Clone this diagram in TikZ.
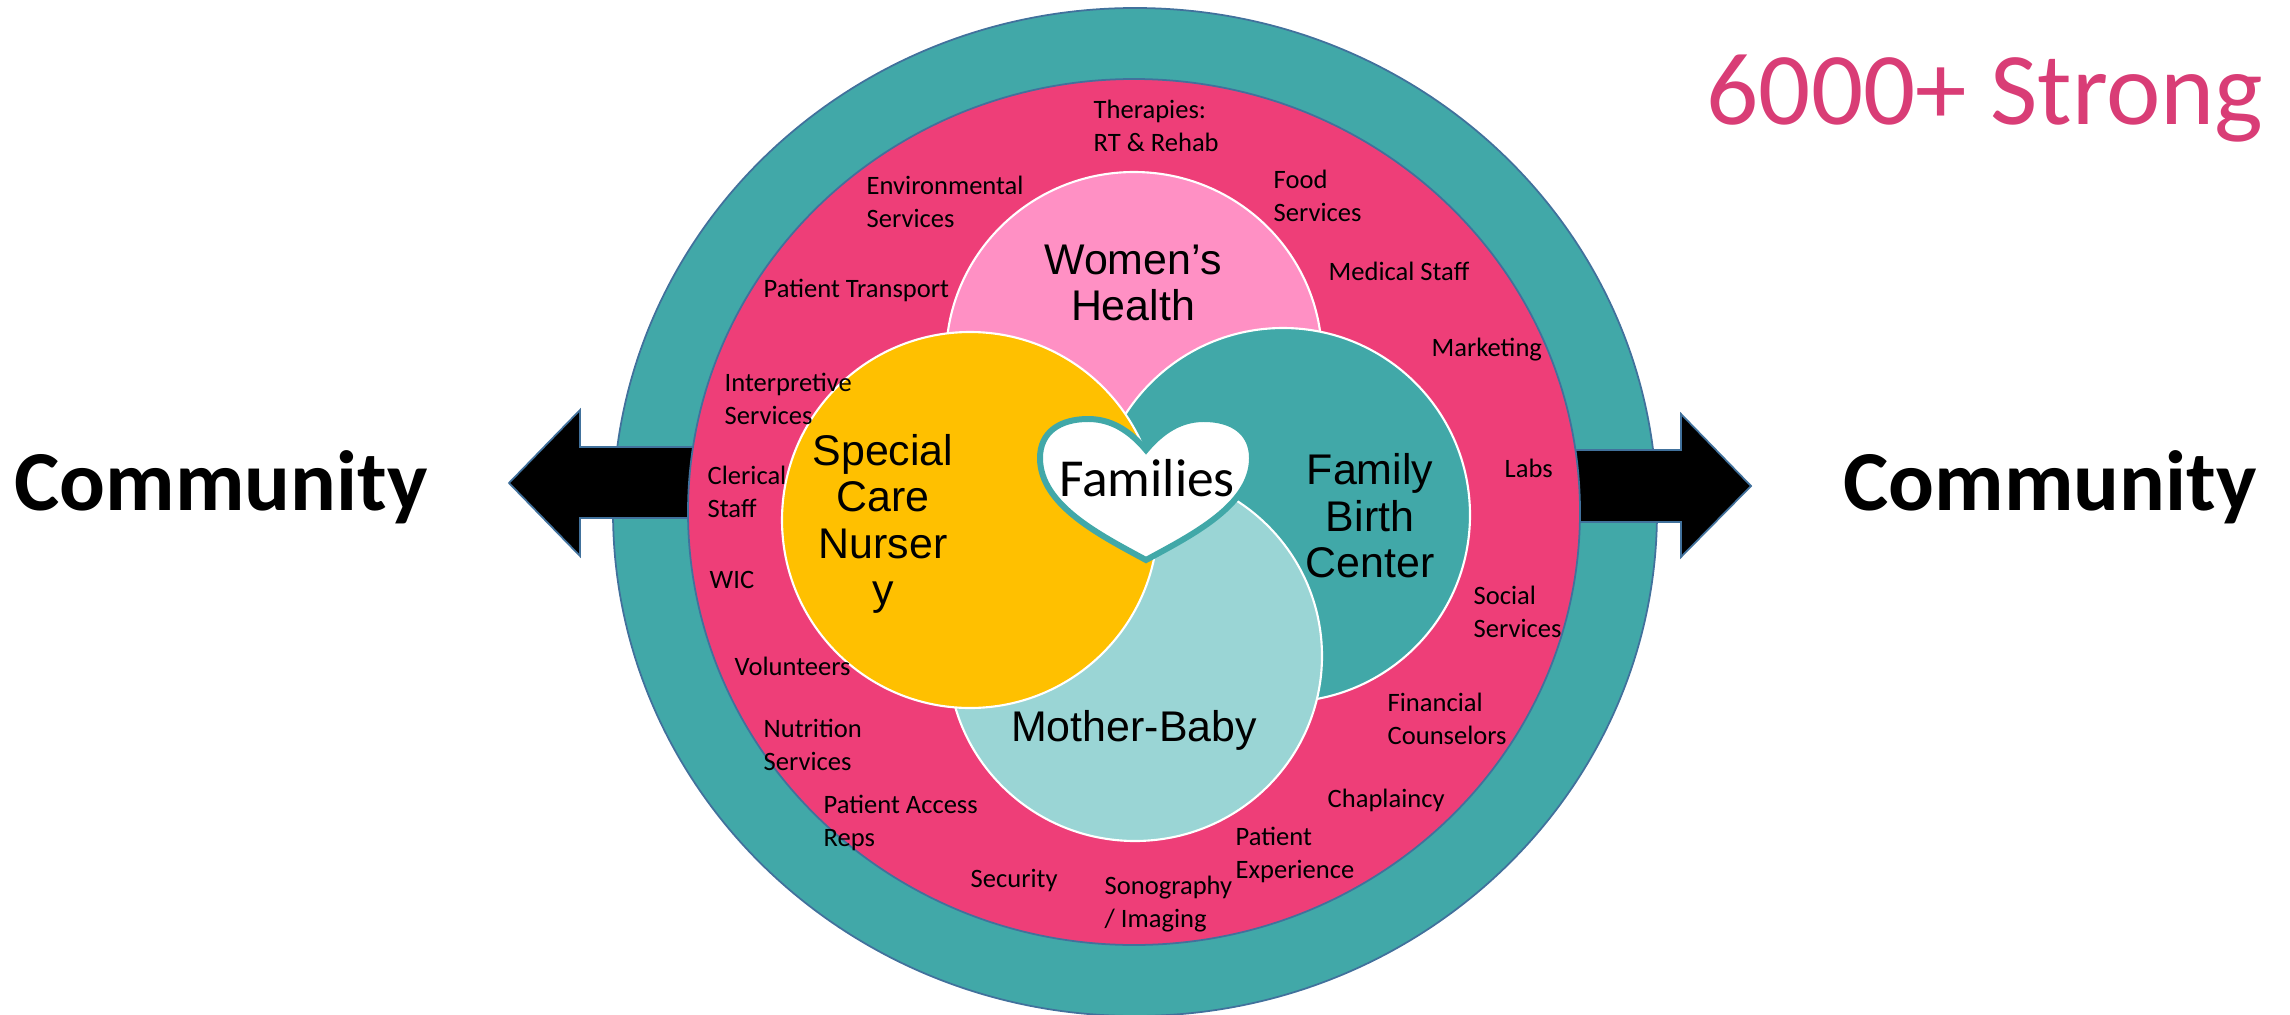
\documentclass[tikz,border=0pt]{standalone}
\usepackage{fontspec}
\setmainfont{Carlito}
\newfontfamily\arialfont{Liberation Sans}
\definecolor{ringteal}{HTML}{41A8A8}
\definecolor{ringpink}{HTML}{EE3E78}
\definecolor{rimblue}{HTML}{41719C}
\definecolor{womenpink}{HTML}{FF90C4}
\definecolor{nurseryyellow}{HTML}{FFC000}
\definecolor{babyteal}{HTML}{9AD5D5}
\definecolor{strongpink}{HTML}{D93D76}
\tikzset{
	svc/.style={anchor=west, align=left, inner sep=0pt, font=\fontsize{7.55pt}{9.2pt}\selectfont},
	unit/.style={align=center, inner sep=0pt, font=\arialfont\fontsize{12.2pt}{13.25pt}\selectfont},
	community/.style={inner sep=0pt, font=\bfseries\fontsize{24.3pt}{30pt}\selectfont},
	lobe/.style={draw=white, line width=0.6pt},
	rim/.style={draw=rimblue, line width=0.5pt},
}
\begin{document}
\begin{tikzpicture}[x=0.01cm, y=-0.01cm]
	\useasboundingbox (0,0) rectangle (2290,1015);
	\filldraw [rim, fill=ringteal] (1135,512) ellipse (522 and 504);
	% arrows run under the pink ring
	\filldraw [rim, fill=black, line join=miter] (800,447) -- (580,447) -- (580,410) -- (509,483) -- (580,556) -- (580,518) -- (800,518) -- cycle;
	\filldraw [rim, fill=black, line join=miter] (1460,450) -- (1681,450) -- (1681,414) -- (1751,486) -- (1681,557) -- (1681,522) -- (1460,522) -- cycle;
	\filldraw [rim, fill=ringpink] (1134,512) ellipse (446 and 433);
	\filldraw [lobe, fill=womenpink] (1134,358) ellipse (188 and 186);
	\filldraw [lobe, fill=ringteal] (1283,515) ellipse (187 and 187);
	\filldraw [lobe, fill=babyteal] (1135,656) ellipse (187 and 185);
	\filldraw [lobe, fill=nurseryyellow] (970,520) ellipse (188 and 188);
	\filldraw [draw=ringteal, fill=white, line width=1.7pt, line join=miter] (1146,450) .. controls (1125,425) and (1105,419) .. (1088,419) .. controls (1060,419) and (1040,432) .. (1040,458) .. controls (1040,505) and (1100,535) .. (1146,560) .. controls (1192,535) and (1252,505) .. (1252,458) .. controls (1252,432) and (1232,419) .. (1204,419) .. controls (1187,419) and (1167,425) .. (1146,450) -- cycle;
	\node [unit] (women) at (1133,283) {Women’s\\Health};
	\node [unit] (nursery) at (883,524) {Special\\Care\\Nurser\\y};
	\node [unit] (birth) at (1370,516) {Family\\Birth\\Center};
	\node [unit] (baby) at (1134,730) {Mother-Baby};
	\node [inner sep=0pt, font=\fontsize{15.2pt}{17pt}\selectfont] (families) at (1147,478) {Families};
	\node [svc] (therapies) at (1093,126) {Therapies:\\RT \& Rehab};
	\node [svc] (environmental) at (866,202) {Environmental\\Services};
	\node [svc] (food) at (1273,196) {Food\\Services};
	\node [svc] (transport) at (763,290) {Patient Transport};
	\node [svc] (medical) at (1328,271) {Medical Staff};
	\node [svc] (marketing) at (1431,350) {Marketing};
	\node [svc] (interpretive) at (724,399) {Interpretive\\Services};
	\node [svc] (clerical) at (707,492) {Clerical\\Staff};
	\node [svc] (labs) at (1504,468) {Labs};
	\node [svc] (wic) at (709,580) {WIC};
	\node [svc] (social) at (1473,612) {Social\\Services};
	\node [svc] (volunteers) at (734,666) {Volunteers};
	\node [svc] (financial) at (1387,719) {Financial\\Counselors};
	\node [svc] (nutrition) at (763,745) {Nutrition\\Services};
	\node [svc] (chaplaincy) at (1327,800) {Chaplaincy};
	\node [svc] (access) at (823,823) {Patient Access\\Reps};
	\node [svc] (experience) at (1235,855) {Patient\\Experience};
	\node [svc] (security) at (970,880) {Security};
	\node [svc] (sonography) at (1104,904) {Sonography\\/ Imaging};
	\node [community] (communityleft) at (221,487) {Community};
	\node [community] (communityright) at (2050,487) {Community};
	\node [inner sep=0pt, text=strongpink, font=\fontsize{29.3pt}{34pt}\selectfont] (strong) at (1985,99) {6000+ Strong};
\end{tikzpicture}
\end{document}
